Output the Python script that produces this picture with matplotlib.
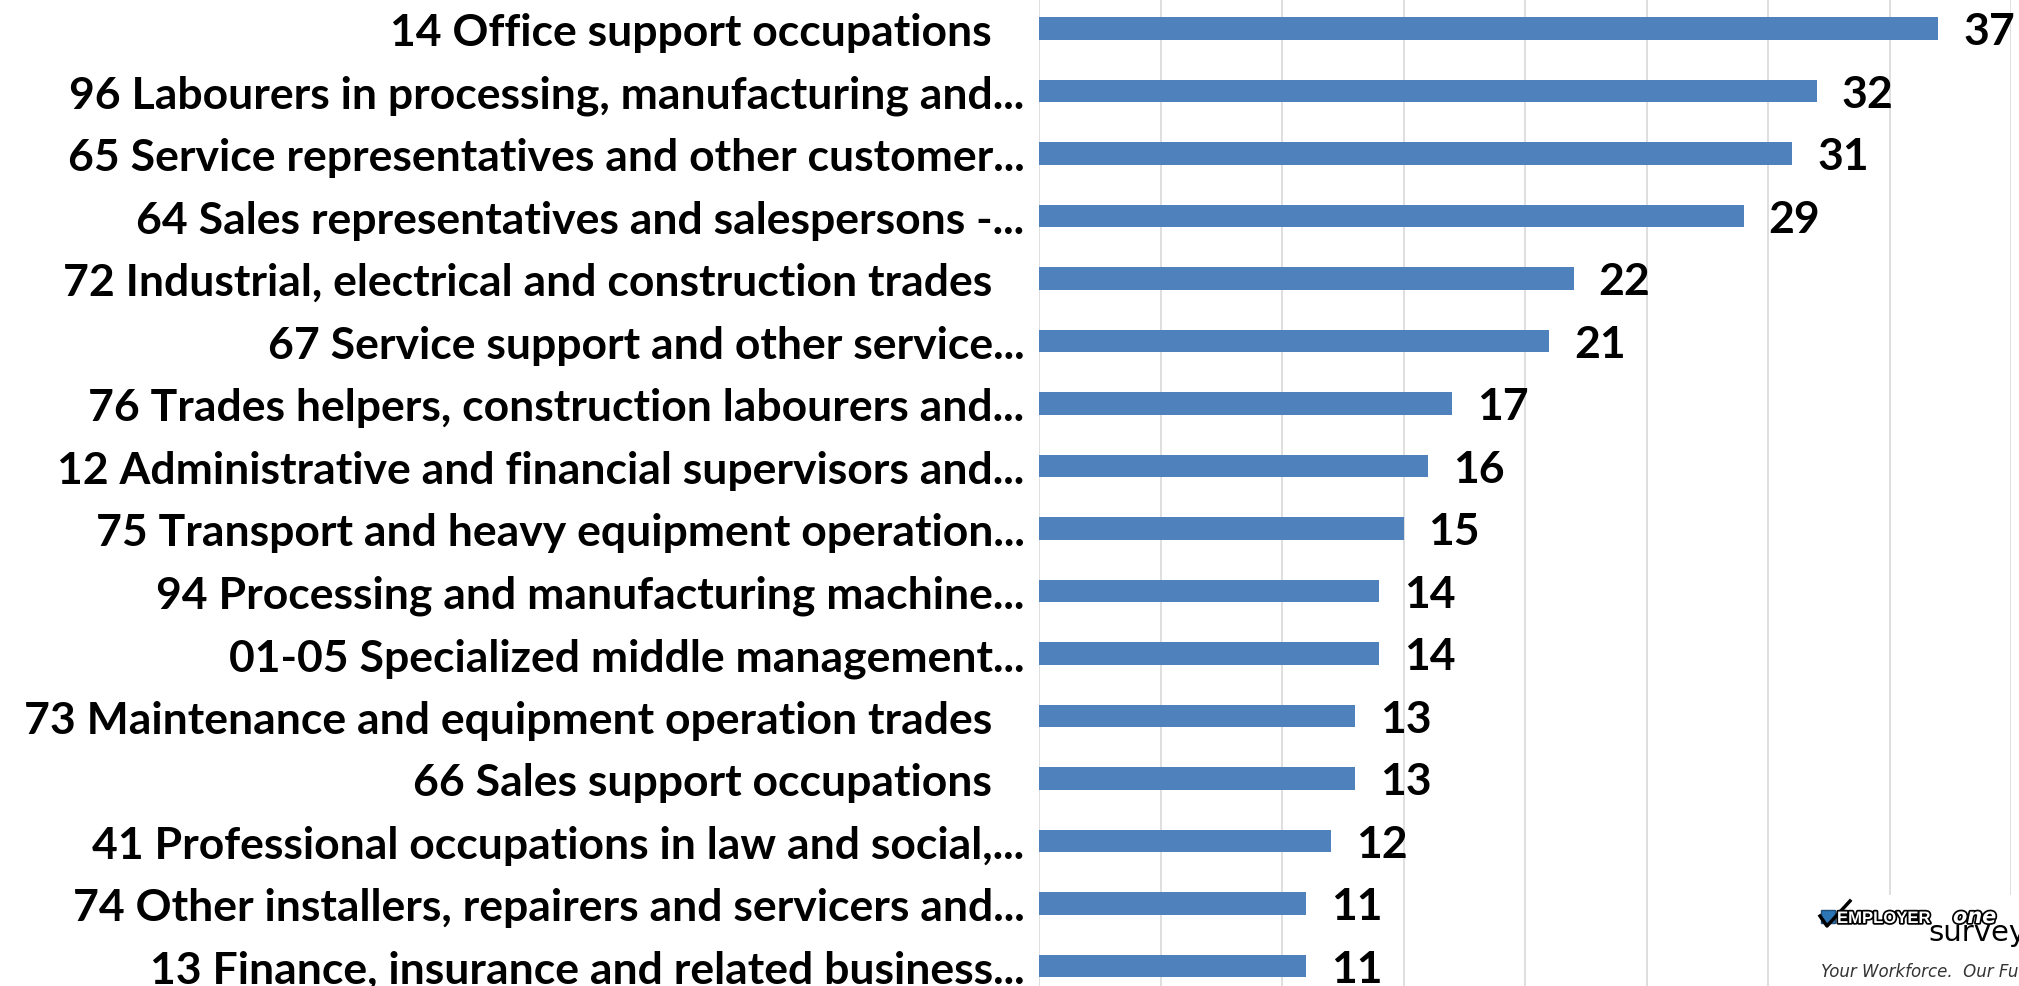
import matplotlib
matplotlib.use("Agg")
import matplotlib.pyplot as plt
import matplotlib.patheffects as pe
from matplotlib.patches import Rectangle
from matplotlib.lines import Line2D

# occupations, top to bottom
categories = [
    "14 Office support occupations   ",
    "96 Labourers in processing, manufacturing and...",
    "65 Service representatives and other customer...",
    "64 Sales representatives and salespersons -...",
    "72 Industrial, electrical and construction trades   ",
    "67 Service support and other service...",
    "76 Trades helpers, construction labourers and...",
    "12 Administrative and financial supervisors and...",
    "75 Transport and heavy equipment operation...",
    "94 Processing and manufacturing machine...",
    "01-05 Specialized middle management...",
    "73 Maintenance and equipment operation trades   ",
    "66 Sales support occupations   ",
    "41 Professional occupations in law and social,...",
    "74 Other installers, repairers and servicers and...",
    "13 Finance, insurance and related business...",
]
values = [37, 32, 31, 29, 22, 21, 17, 16, 15, 14, 14, 13, 13, 12, 11, 11]

BLUE = "#4F81BD"
GRID = "#D9D9D9"
FONT = "Lato"
W, H = 2019, 987

fig = plt.figure(figsize=(W / 100, H / 100), dpi=100)
ax = fig.add_axes([1039 / W, 0.0, 972 / W, 1.0])

pos = list(range(len(categories)))
bars = ax.barh(pos, values, height=0.36, color=BLUE, zorder=3)

ax.set_xlim(0, 40)
ax.set_ylim(15.32, -0.474)
ax.set_xticks(range(0, 41, 5))
ax.xaxis.grid(True, color=GRID, linewidth=1.2, zorder=0)
ax.tick_params(axis="x", length=0, labelbottom=False)
ax.tick_params(axis="y", length=0, pad=10.5)
ax.set_yticks(pos)
ax.set_yticklabels(categories, fontsize=32, fontweight="bold", family=FONT)
for s in ax.spines.values():
    s.set_visible(False)

# value labels
for rect, v in zip(bars, values):
    ax.annotate(str(v), (rect.get_width(), rect.get_y() + rect.get_height() / 2),
                xytext=(18, -2), textcoords="offset points", ha="left", va="center",
                fontsize=32, fontweight="bold", family=FONT, clip_on=False)

# logo in the lower right corner (cut off by the right edge, as in the source)
fig.patches.append(Rectangle((1815 / W, 0), 0.2, 91 / H, transform=fig.transFigure,
                             facecolor="white", edgecolor="none", zorder=5))
fig.patches.append(Rectangle((1821 / W, 63 / H), 14 / W, 13 / H,
                             transform=fig.transFigure, facecolor="#2E75B6",
                             edgecolor="#1F4E79", linewidth=1, zorder=6))
fig.lines.append(Line2D([1820 / W, 1827 / W, 1850 / W], [70 / H, 60 / H, 85 / H],
                        transform=fig.transFigure, color="black", linewidth=2.5,
                        zorder=7))
fig.text(1837 / W, 63 / H, "EMPLOYER", fontsize=12, fontweight="bold", color="white",
         family="Liberation Sans", zorder=7,
         path_effects=[pe.withStroke(linewidth=2.5, foreground="black")])
fig.text(1953 / W, 63 / H, "one", fontsize=15, fontstyle="italic", fontweight="bold",
         color="white", family="DejaVu Sans", zorder=7,
         path_effects=[pe.withStroke(linewidth=2.5, foreground="black")])
fig.text(1928 / W, 46 / H, "survey", fontsize=21, color="black",
         family="DejaVu Sans", zorder=7)
fig.text(1821 / W, 10 / H, "Your Workforce.  Our Future", fontsize=12,
         fontstyle="italic", color="#333333", family="DejaVu Sans", zorder=7)

fig.savefig("out.png", dpi=100)
